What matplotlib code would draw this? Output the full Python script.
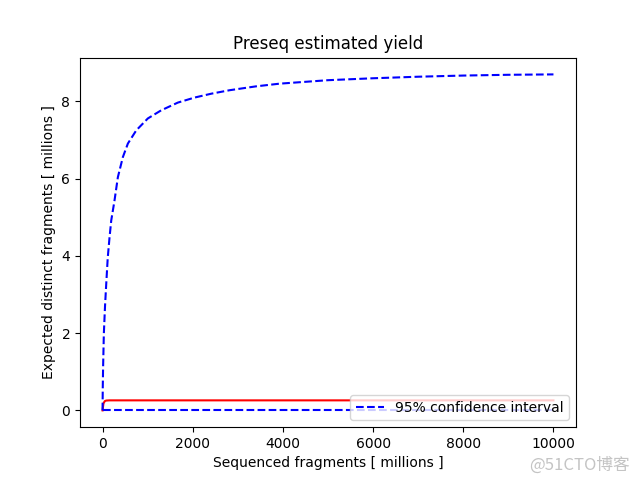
import matplotlib
matplotlib.use('Agg')
import matplotlib.pyplot as plt

# upper confidence bound
upper_x = [0, 5, 12, 29, 55, 82, 115, 155, 193, 266, 340, 451, 562, 747,
           1005, 1301, 1670, 2040, 2410, 2816, 3400, 3925, 5000, 6000, 7000,
           8000, 9000, 10000]
upper_y = [0.0, 0.6, 1.1, 1.99, 2.7, 3.28, 3.95, 4.48, 4.92, 5.44, 6.04,
           6.56, 6.91, 7.25, 7.56, 7.77, 7.97, 8.10, 8.20, 8.29, 8.39, 8.46,
           8.55, 8.60, 8.64, 8.67, 8.69, 8.70]

# estimated yield
est_x = [0, 20, 50, 80, 150, 10000]
est_y = [0.0, 0.18, 0.24, 0.255, 0.26, 0.26]

# lower confidence bound
lower_x = [0, 10000]
lower_y = [0.02, 0.02]

fig = plt.figure(figsize=(6.4, 4.8), dpi=100)
ax = plt.gca()
ax.plot(est_x, est_y, 'r-')
ax.plot(upper_x, upper_y, 'b--', label='95% confidence interval')
ax.plot(lower_x, lower_y, 'b--')
ax.set_title('Preseq estimated yield')
ax.set_xlabel('Sequenced fragments [ millions ]')
ax.set_ylabel('Expected distinct fragments [ millions ]')
ax.legend(loc='lower right')

# watermark
fig.text(0.984, 0.012, '@51CTO博客', ha='right', va='bottom', color='#c4c4c4',
         fontsize=12, family=['Noto Sans CJK SC', 'DejaVu Sans'])

plt.savefig('out.png')
